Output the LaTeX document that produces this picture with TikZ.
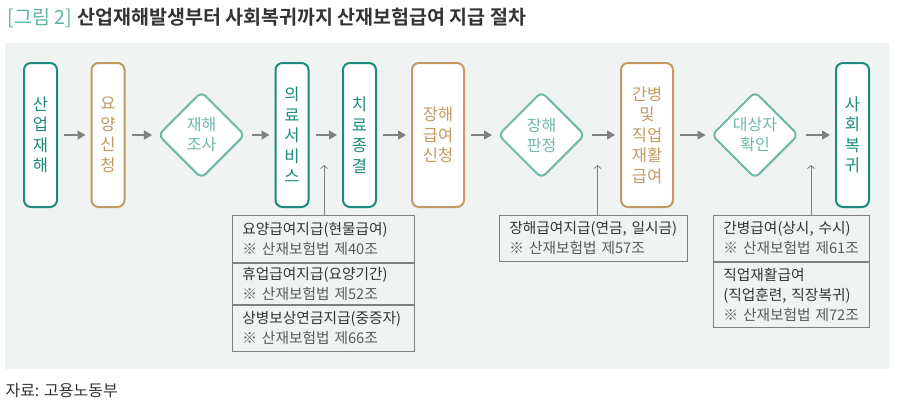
\documentclass[tikz,border=0pt]{standalone}
\usepackage{fontspec}
\setmainfont{Noto Sans CJK KR}[BoldFont={Noto Sans CJK KR Bold}]
\usepackage{xcolor}
\usetikzlibrary{shapes.geometric, arrows.meta, positioning, calc}

\definecolor{stageteal}{HTML}{1B8C7A}
\definecolor{stagetan}{HTML}{C29A62}
\definecolor{checkteal}{HTML}{6DB8A8}
\definecolor{panelbg}{HTML}{EFF4F2}
\definecolor{linegray}{HTML}{808080}
\definecolor{titleteal}{HTML}{5DB3A2}
\definecolor{titledark}{HTML}{333333}
\definecolor{notegray}{HTML}{5A5A5A}

\begin{document}
\begin{tikzpicture}[x=1pt, y=-1pt,
    stage/.style={rectangle, draw=stageteal, text=stageteal, fill=white, line width=2pt, rounded corners=7pt, minimum width=33pt, minimum height=144pt, inner sep=0pt, align=center, font=\fontsize{16.5}{20.5}\selectfont},
    request/.style={stage, draw=stagetan, text=stagetan},
    check/.style={diamond, draw=checkteal, text=checkteal, fill=white, line width=2pt, rounded corners=6pt, minimum width=87pt, minimum height=87pt, inner sep=0pt, align=center, font=\fontsize{16}{20}\selectfont},
    benefit/.style={rectangle, draw=linegray, line width=0.8pt, align=left, inner xsep=10pt, inner ysep=0pt, text=black!80, font=\fontsize{14.7}{20}\selectfont},
    arrow/.style={-{Triangle[length=8pt, width=9pt]}, line width=1.3pt, draw=linegray, shorten <=6pt, shorten >=5pt},
    uparrow/.style={-{Straight Barb[length=3pt, width=7pt]}, line width=0.8pt, draw=linegray}
]
    \useasboundingbox (0,0) rectangle (897,416);

    % Title and panel
    \node[anchor=west, font=\fontsize{19.5}{22}\selectfont] (title) at (4,18) {\textcolor{titleteal}{[그림 2]}\hspace{6pt}\textcolor{titledark}{\textbf{산업재해발생부터 사회복귀까지 산재보험급여 지급 절차}}};
    \fill[panelbg] (5,43) rectangle (889,369);

    % Process stages
    \node[stage] (accident) at (40.5,135) {산\\업\\재\\해};
    \node[request] (careapply) at (108,135) {요\\양\\신\\청};
    \node[check] (survey) at (201.5,135) {재해\\조사};
    \node[stage] (medical) at (292,135) {의\\료\\서\\비\\스};
    \node[stage] (cureend) at (359.5,135) {치\\료\\종\\결};
    \node[request, minimum width=52pt] (disapply) at (438,135) {장해\\급여\\신청};
    \node[check] (disjudge) at (541.5,135) {장해\\판정};
    \node[request, minimum width=52pt] (nursing) at (647,135) {간병\\및\\직업\\재활\\급여};
    \node[check] (target) at (755,135) {대상자\\확인};
    \node[stage] (return) at (852.5,135) {사\\회\\복\\귀};

    % Main flow
    \draw[arrow] (accident) -- (careapply);
    \draw[arrow] (careapply) -- (survey);
    \draw[arrow] (survey) -- (medical);
    \draw[arrow] (medical) -- (cureend);
    \draw[arrow] (cureend) -- (disapply);
    \draw[arrow] (disapply) -- (disjudge);
    \draw[arrow] (disjudge) -- (nursing);
    \draw[arrow] (nursing) -- (target);
    \draw[arrow] (target) -- (return);

    % Benefit boxes
    \node[benefit, anchor=north west, text width=162pt, minimum height=47pt] (care) at (232,215) {요양급여지급(현물급여)\\\textcolor{notegray}{※ 산재보험법 제40조}};
    \node[benefit, below=0pt of care, text width=162pt, minimum height=41pt] (leave) {휴업급여지급(요양기간)\\\textcolor{notegray}{※ 산재보험법 제52조}};
    \node[benefit, below=0pt of leave, text width=162pt, minimum height=46pt] (pension) {상병보상연금지급(중증자)\\\textcolor{notegray}{※ 산재보험법 제66조}};
    \node[benefit, anchor=north west, text width=168pt, minimum height=46pt] (disability) at (499,215) {장해급여지급(연금, 일시금)\\\textcolor{notegray}{※ 산재보험법 제57조}};
    \node[benefit, anchor=north west, text width=136pt, minimum height=46pt] (nurse) at (713,215) {간병급여(상시, 수시)\\\textcolor{notegray}{※ 산재보험법 제61조}};
    \node[benefit, below=0pt of nurse, text width=136pt, minimum height=65pt] (rehab) {직업재활급여\\(직업훈련, 직장복귀)\\\textcolor{notegray}{※ 산재보험법 제72조}};

    % Benefit links
    \coordinate (carein) at (324,165);
    \coordinate (disin) at (597.5,165);
    \coordinate (nursein) at (811,165);
    \draw[uparrow] (care.north -| carein) -- (carein);
    \draw[uparrow] (disability.north -| disin) -- (disin);
    \draw[uparrow] (nurse.north -| nursein) -- (nursein);

    % Source
    \node[anchor=west, text=black!80, font=\fontsize{16}{18}\selectfont] (source) at (2,390) {자료: 고용노동부};
\end{tikzpicture}
\end{document}
